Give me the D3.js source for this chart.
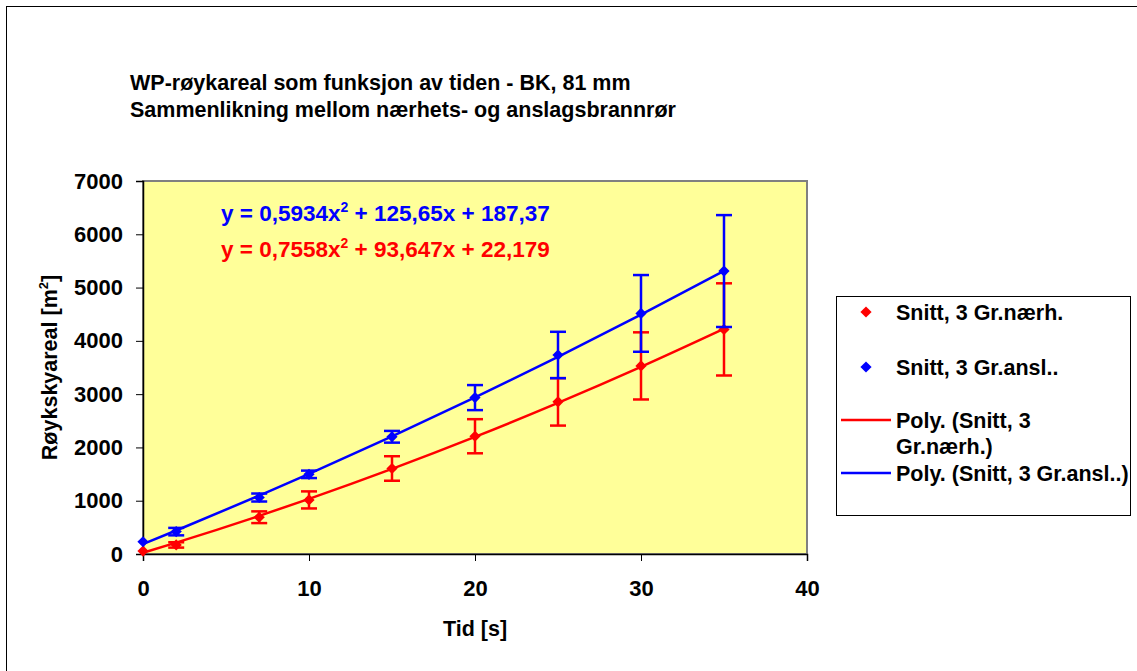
<!DOCTYPE html>
<html>
<head>
<meta charset="utf-8">
<script src="https://cdn.jsdelivr.net/npm/d3@7"></script>
<style>
  body { margin: 0; background: #fff; }
  text { font-family: "Liberation Sans", Arial, sans-serif; font-weight: bold; }
</style>
</head>
<body>
<div id="chart"></div>
<script>
// data
const tid = [0, 2, 7, 10, 15, 20, 25, 30, 35];
const naerh = [55, 170, 690, 1015, 1605, 2210, 2855, 3530, 4215];
const naerhErr = [0, 50, 110, 160, 230, 320, 445, 630, 865];
const ansl = [230, 420, 1060, 1495, 2200, 2935, 3735, 4515, 5310];
const anslErr = [0, 70, 75, 70, 110, 235, 435, 720, 1050];
// trendline coefficients (a, b, c) from the equations in the chart
const naerhPoly = [0.7558, 93.647, 22.179];
const anslPoly = [0.5934, 125.65, 187.37];
const xTicks = [0, 10, 20, 30, 40];
const yTicks = [0, 1000, 2000, 3000, 4000, 5000, 6000, 7000];
const titleLines = ['WP-røykareal som funksjon av tiden - BK, 81 mm',
                    'Sammenlikning mellom nærhets- og anslagsbrannrør'];

const W = 1137, H = 671;
const plot = { left: 143, top: 181, right: 807, bottom: 554 };
const fs = '21.5px';

const svg = d3.select('#chart').append('svg')
    .attr('width', W).attr('height', H);

// outer chart frame
svg.append('rect')
    .attr('x', 6.5).attr('y', 6.5)
    .attr('width', 1300).attr('height', 900)
    .attr('fill', 'none').attr('stroke', '#000').attr('stroke-width', 1);

const x = d3.scaleLinear().domain([0, 40]).range([plot.left, plot.right]);
const y = d3.scaleLinear().domain([0, 7000]).range([plot.bottom, plot.top]);

// plot area
svg.append('rect')
    .attr('x', plot.left).attr('y', plot.top)
    .attr('width', plot.right - plot.left).attr('height', plot.bottom - plot.top)
    .attr('fill', '#ffff99').attr('stroke', '#808080').attr('stroke-width', 2);

// axes
const yAxis = svg.append('g')
    .attr('transform', `translate(${plot.left},0)`)
    .call(d3.axisLeft(y).tickValues(yTicks).tickSize(7).tickPadding(13).tickFormat(d3.format('d')));
const xAxis = svg.append('g')
    .attr('transform', `translate(0,${plot.bottom})`)
    .call(d3.axisBottom(x).tickValues(xTicks).tickSize(7).tickPadding(19).tickFormat(d3.format('d')));
[yAxis, xAxis].forEach(a => {
    a.select('.domain').attr('stroke', '#000').attr('stroke-width', 1.5);
    a.selectAll('.tick line').attr('stroke', '#000');
    a.selectAll('.tick text')
        .style('font-family', '"Liberation Sans", Arial, sans-serif')
        .style('font-weight', 'bold')
        .style('font-size', '22px')
        .attr('fill', '#000');
});

// trendlines
function poly(c) {
    return tid.map(t => [t, c[0] * t * t + c[1] * t + c[2]]);
}
const line = d3.line().x(d => x(d[0])).y(d => y(d[1])).curve(d3.curveMonotoneX);
svg.append('path').datum(poly(naerhPoly))
    .attr('d', line).attr('fill', 'none').attr('stroke', '#ff0000').attr('stroke-width', 2.5);
svg.append('path').datum(poly(anslPoly))
    .attr('d', line).attr('fill', 'none').attr('stroke', '#0000ff').attr('stroke-width', 2.5);

// error bars and markers
const diamond = d3.symbol().type(d3.symbolDiamond2).size(80);
function addSeries(vals, errs, color) {
    const g = svg.append('g');
    const rows = tid.map((t, i) => ({ t: t, v: vals[i], e: errs[i] }));
    const eb = g.selectAll('g.err').data(rows.filter(d => d.e > 0)).enter().append('g')
        .attr('stroke', color).attr('stroke-width', 2.5);
    eb.append('line')
        .attr('x1', d => x(d.t)).attr('x2', d => x(d.t))
        .attr('y1', d => y(d.v - d.e)).attr('y2', d => y(d.v + d.e));
    eb.append('line')
        .attr('x1', d => x(d.t) - 8).attr('x2', d => x(d.t) + 8)
        .attr('y1', d => y(d.v - d.e)).attr('y2', d => y(d.v - d.e));
    eb.append('line')
        .attr('x1', d => x(d.t) - 8).attr('x2', d => x(d.t) + 8)
        .attr('y1', d => y(d.v + d.e)).attr('y2', d => y(d.v + d.e));
    g.selectAll('path.pt').data(rows).enter().append('path')
        .attr('class', 'pt')
        .attr('d', diamond)
        .attr('transform', d => `translate(${x(d.t)},${y(d.v)})`)
        .attr('fill', color);
}
addSeries(naerh, naerhErr, '#ff0000');
addSeries(ansl, anslErr, '#0000ff');

// equations
function equation(c, color, px, py) {
    const t = svg.append('text').attr('x', px).attr('y', py)
        .attr('fill', color).style('font-size', '22.5px');
    const f = v => String(v).replace('.', ',');
    t.append('tspan').text(`y = ${f(c[0])}x`);
    t.append('tspan').attr('dy', -9).style('font-size', '14px').text('2');
    t.append('tspan').attr('dy', 9).text(` + ${f(c[1])}x + ${f(c[2])}`);
}
equation(anslPoly, '#0000ff', 221, 221);
equation(naerhPoly, '#ff0000', 221, 257);

// title
svg.append('g').selectAll('text').data(titleLines).enter().append('text')
    .attr('x', 130).attr('y', (d, i) => 90 + i * 27)
    .style('font-size', fs)
    .text(d => d);

// axis titles
svg.append('text')
    .attr('x', (plot.left + plot.right) / 2).attr('y', 636)
    .attr('text-anchor', 'middle').style('font-size', fs)
    .text('Tid [s]');
const yt = svg.append('text')
    .attr('transform', `translate(57,${(plot.top + plot.bottom) / 2}) rotate(-90)`)
    .attr('text-anchor', 'middle').style('font-size', fs);
yt.append('tspan').text('Røykskyareal [m');
yt.append('tspan').attr('dy', -9).style('font-size', '13px').text('2');
yt.append('tspan').attr('dy', 9).text(']');

// legend
const lg = svg.append('g');
lg.append('rect')
    .attr('x', 836.5).attr('y', 296.5).attr('width', 294).attr('height', 219)
    .attr('fill', '#fff').attr('stroke', '#000').attr('stroke-width', 1);
const legendItems = [
    { kind: 'marker', color: '#ff0000', lines: ['Snitt, 3 Gr.nærh.'], y: 312 },
    { kind: 'marker', color: '#0000ff', lines: ['Snitt, 3 Gr.ansl..'], y: 367 },
    { kind: 'line', color: '#ff0000', lines: ['Poly. (Snitt, 3', 'Gr.nærh.)'], y: 420 },
    { kind: 'line', color: '#0000ff', lines: ['Poly. (Snitt, 3 Gr.ansl..)'], y: 473 }
];
legendItems.forEach(it => {
    if (it.kind === 'marker') {
        lg.append('path').attr('d', diamond)
            .attr('transform', `translate(866,${it.y})`).attr('fill', it.color);
    } else {
        lg.append('line').attr('x1', 841).attr('x2', 891)
            .attr('y1', it.y).attr('y2', it.y)
            .attr('stroke', it.color).attr('stroke-width', 2.5);
    }
    it.lines.forEach((s, i) => {
        lg.append('text').attr('x', 896).attr('y', it.y + 8 + i * 26)
            .style('font-size', fs).text(s);
    });
});
</script>
</body>
</html>
